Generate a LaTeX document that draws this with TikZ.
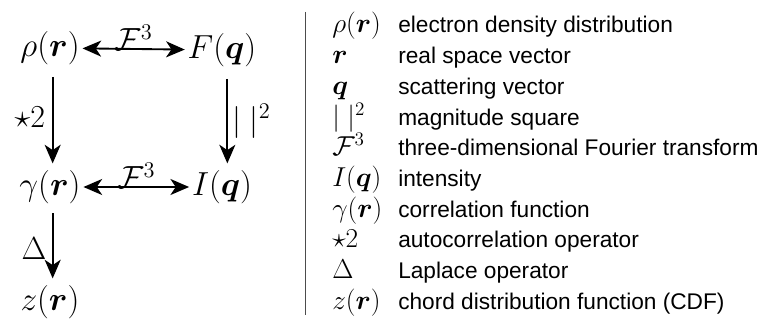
\RequirePackage{fix-cm}
\documentclass[tikz,border=0pt]{standalone}
\usepackage{amsmath,amssymb,bm}
\usepackage{xcolor}
\usepackage{fontspec}
\newfontfamily\legendfont{Liberation Sans}
\usepackage{tikz}
\usetikzlibrary{positioning,arrows.meta}

\begin{document}
\begin{tikzpicture}[
  x=0.75pt, y=-0.75pt,
  quantity/.style={
    inner sep=2pt,
    font=\fontsize{25}{30}\selectfont
  },
  oplabel/.style={inner sep=1pt, font=\fontsize{24}{29}\selectfont},
  twoway/.style={{Stealth[length=14pt,width=12pt,inset=4pt]}-{Stealth[length=14pt,width=12pt,inset=4pt]}, line width=1.4pt},
  oneway/.style={-{Stealth[length=14pt,width=12pt,inset=4pt]}, line width=1.4pt},
  legsym/.style={anchor=base west, inner sep=0pt, font=\fontsize{20.5}{24}\selectfont},
  legtext/.style={anchor=base west, inner sep=0pt, font=\legendfont\fontsize{17}{20}\selectfont}
]
\useasboundingbox (0,0) rectangle (768,321);

% Quantities
\node[quantity] (rho)   at (50,48)  {$\rho(\bm{r})$};
\node[quantity] (Fq)    at (222,50) {$F(\bm{q})$};
\node[quantity] (gamma) at (50,187) {$\gamma(\bm{r})$};
\node[quantity] (Iq)    at (222,187) {$I(\bm{q})$};
\node[quantity] (zr)    at (50,302) {$z(\bm{r})$};

% Fourier pairs
\draw[twoway] (rho) -- node[oplabel, above, yshift=-3pt]{$\mathcal{F}^3$} (Fq);
\draw[twoway] (gamma) -- node[oplabel, above, yshift=-3pt]{$\mathcal{F}^3$} (Iq);

% Operators
\draw[oneway, shorten <=7pt, shorten >=3pt] ([xshift=2pt]rho.south) -- node[oplabel, left, xshift=-4pt]{$\star 2$} ([xshift=2pt]gamma.north);
\draw[oneway, shorten <=7pt, shorten >=3pt] ([xshift=4pt]Fq.south) -- node[oplabel, right, xshift=2pt, yshift=-2pt]{$|\;|^2$} ([xshift=4pt]Iq.north);
\draw[oneway, shorten <=5pt, shorten >=3pt] ([xshift=2pt]gamma.south) -- node[oplabel, left, xshift=-3pt, yshift=-3pt]{$\Delta$} ([xshift=2pt]zr.north);

% Divider
\coordinate (divtop) at (305,12);
\coordinate (divbot) at (305,315);
\draw[black!70, line width=0.6pt] (divtop) -- (divbot);

% Legend
\node[legsym]  (s1)  at (332,33)    {$\rho(\bm{r})$};
\node[legtext] (t1)  at (398,33)    {electron density distribution};
\node[legsym]  (s2)  at (332,63.7)  {$\bm{r}$};
\node[legtext] (t2)  at (398,63.7)  {real space vector};
\node[legsym]  (s3)  at (332,94.4)  {$\bm{q}$};
\node[legtext] (t3)  at (398,94.4)  {scattering vector};
\node[legsym]  (s4)  at (332,125.1) {$|\;|^2$};
\node[legtext] (t4)  at (398,125.1) {magnitude square};
\node[legsym]  (s5)  at (332,155.8) {$\mathcal{F}^3$};
\node[legtext] (t5)  at (398,155.8) {three-dimensional Fourier transform};
\node[legsym]  (s6)  at (332,186.5) {$I(\bm{q})$};
\node[legtext] (t6)  at (398,186.5) {intensity};
\node[legsym]  (s7)  at (332,217.2) {$\gamma(\bm{r})$};
\node[legtext] (t7)  at (398,217.2) {correlation function};
\node[legsym]  (s8)  at (332,247.9) {$\star 2$};
\node[legtext] (t8)  at (398,247.9) {autocorrelation operator};
\node[legsym]  (s9)  at (332,278.6) {$\Delta$};
\node[legtext] (t9)  at (398,278.6) {Laplace operator};
\node[legsym]  (s10) at (332,309.3) {$z(\bm{r})$};
\node[legtext] (t10) at (398,309.3) {chord distribution function (CDF)};

\end{tikzpicture}
\end{document}
